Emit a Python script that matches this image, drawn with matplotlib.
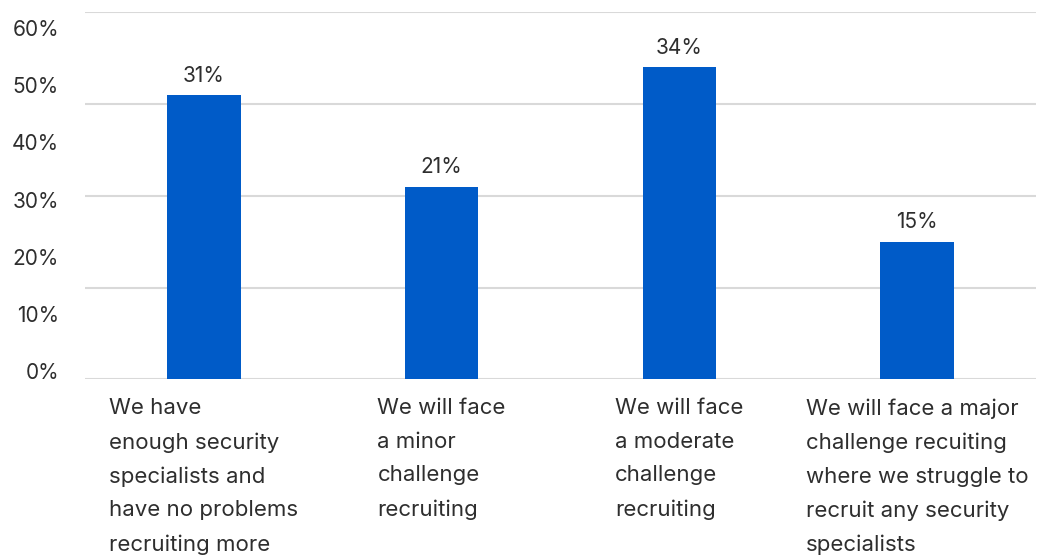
import matplotlib.pyplot as plt
from matplotlib.transforms import offset_copy

categories = [
    "We have\nenough security\nspecialists and\nhave no problems\nrecruiting more",
    "We will face\na minor\nchallenge\nrecruiting",
    "We will face\na moderate\nchallenge\nrecruiting",
    "We will face a major\nchallenge recuiting\nwhere we struggle to\nrecruit any security\nspecialists",
]
values = [31, 21, 34, 15]
value_labels = ["31%", "21%", "34%", "15%"]
y_tick_values = [0, 10, 20, 30, 40, 50, 60]
y_tick_labels = ["0%", "10%", "20%", "30%", "40%", "50%", "60%"]

FONT = ["Inter", "DejaVu Sans"]
TEXT_COLOR = "#2e2e2e"
BAR_COLOR = "#005bc8"
GRID_COLOR = "#d9d9d9"
FS = 15

W, H = 1040, 558
fig = plt.figure(figsize=(W / 100, H / 100), dpi=100)
left, right, top, bottom = 85, 1036, 12.3, 379.3
rect = [left / W, 1 - bottom / H, (right - left) / W, (bottom - top) / H]
ax = fig.add_axes(rect)

x = list(range(len(categories)))
ax.bar(x, values, width=0.31, color=BAR_COLOR, zorder=3)
ax.set_xlim(-0.5, len(categories) - 0.5)
ax.set_ylim(0, 40)
ax.set_yticks([0, 10, 20, 30, 40])
ax.set_yticklabels([])
ax.tick_params(axis="y", length=0)
ax.grid(axis="y", color=GRID_COLOR, linewidth=1.5, zorder=0)
for s in ax.spines.values():
    s.set_visible(False)
ax.set_xticks([])

for xi, v, lab in zip(x, values, value_labels):
    ax.annotate(lab, (xi, v), xytext=(0, 9.5), textcoords="offset points",
                ha="center", va="baseline", fontsize=FS, color=TEXT_COLOR,
                family=FONT)

trans = offset_copy(ax.get_xaxis_transform(), fig=fig, x=0, y=-19, units="dots")
for xi, cat in zip(x, categories):
    ax.text(xi, 0, cat, transform=trans, ha="center", va="top",
            multialignment="left", fontsize=16, color=TEXT_COLOR,
            family=FONT, linespacing=1.84)

# separate label axis (labels are not aligned with gridlines in the reference)
ax2 = fig.add_axes(rect, frameon=False)
px_per_unit = (371 - 28) / 60
ax2.set_ylim(-(bottom - 371) / px_per_unit, (371 - top) / px_per_unit)
ax2.set_yticks(y_tick_values)
ax2.set_yticklabels(y_tick_labels, family=FONT, fontsize=FS, color=TEXT_COLOR)
ax2.tick_params(axis="y", length=0, pad=26 * 0.72)
ax2.set_xticks([])
ax2.patch.set_visible(False)

fig.savefig("out.png", dpi=100)
